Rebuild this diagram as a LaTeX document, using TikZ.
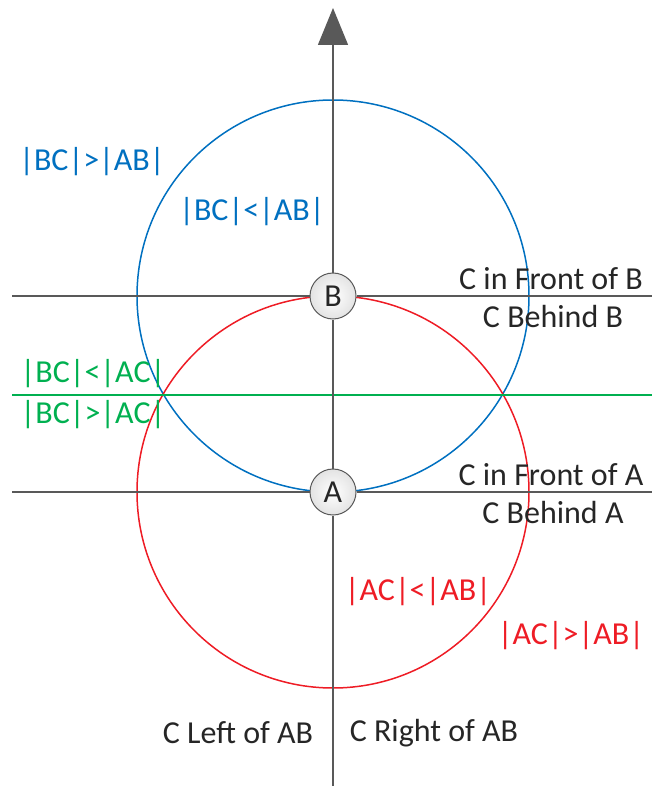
\documentclass[tikz,border=0pt]{standalone}
\usepackage{fontspec}
\setmainfont{Carlito}
\usetikzlibrary{arrows.meta,positioning}
\definecolor{Axis}{HTML}{595959}
\definecolor{BlueC}{HTML}{0070C0}
\definecolor{RedC}{HTML}{EE1C25}
\definecolor{GreenC}{HTML}{00B050}
\definecolor{Txt}{HTML}{262626}

\tikzset{
  guide/.style={draw=Axis,line width=1.5pt},
  pointnode/.style={circle,draw=Axis,line width=1pt,minimum size=46pt,inner sep=0pt,
    inner color=white,outer color=gray!22,text=Txt,font=\fontsize{32}{38}\selectfont},
  lbl/.style={text=Txt,font=\fontsize{32}{38}\selectfont,inner sep=0pt},
}

\begin{document}
\begin{tikzpicture}[x=1pt,y=-1pt]
  \useasboundingbox (0,0) rectangle (661,786);

  % anchor points
  \coordinate (pB) at (333,296);
  \coordinate (pA) at (333,492);
  \coordinate (axisBot) at (333,786);
  \coordinate (axisTop) at (333,8);
  \coordinate (lineBl) at (12,296);
  \coordinate (lineBr) at (652,296);
  \coordinate (lineAl) at (12,492);
  \coordinate (lineAr) at (652,492);
  \coordinate (midL) at (12,395);
  \coordinate (midR) at (652,395);

  % circles
  \draw[BlueC,line width=1.5pt] (pB) circle[radius=196pt];
  \draw[RedC,line width=1.5pt] (pA) circle[radius=196pt];
  \draw[GreenC,line width=1.5pt] (midL) -- (midR);

  % points
  \node[pointnode] (B) at (pB) {B};
  \node[pointnode] (A) at (pA) {A};

  % axis and cross lines
  \draw[guide] (axisBot) -- (A.south);
  \draw[guide] (A.north) -- (B.south);
  \draw[guide,-{Triangle[length=37pt,width=30pt]}] (B.north) -- (axisTop);
  \draw[guide] (lineBl) -- (B.west);
  \draw[guide] (B.east) -- (lineBr);
  \draw[guide] (lineAl) -- (A.west);
  \draw[guide] (A.east) -- (lineAr);

  % region labels
  \node[lbl,text=BlueC] (bcGab) at (92,162) {|BC|>|AB|};
  \node[lbl,text=BlueC] (bcLab) at (252,212) {|BC|<|AB|};
  \node[lbl] (frontB) at (551,279) {C in Front of B};
  \node[lbl] (behindB) at (553,316) {C Behind B};
  \node[lbl,text=GreenC] (bcLac) at (93,374) {|BC|<|AC|};
  \node[lbl,text=GreenC] (bcGac) at (93,415) {|BC|>|AC|};
  \node[lbl] (frontA) at (551,475) {C in Front of A};
  \node[lbl] (behindA) at (553,512) {C Behind A};
  \node[lbl,text=RedC] (acLab) at (418,592) {|AC|<|AB|};
  \node[lbl,text=RedC] (acGab) at (571,636) {|AC|>|AB|};
  \node[lbl] (leftAB) at (238,733) {C Left of AB};
  \node[lbl] (rightAB) at (434,733) {C Right of AB};
\end{tikzpicture}
\end{document}
